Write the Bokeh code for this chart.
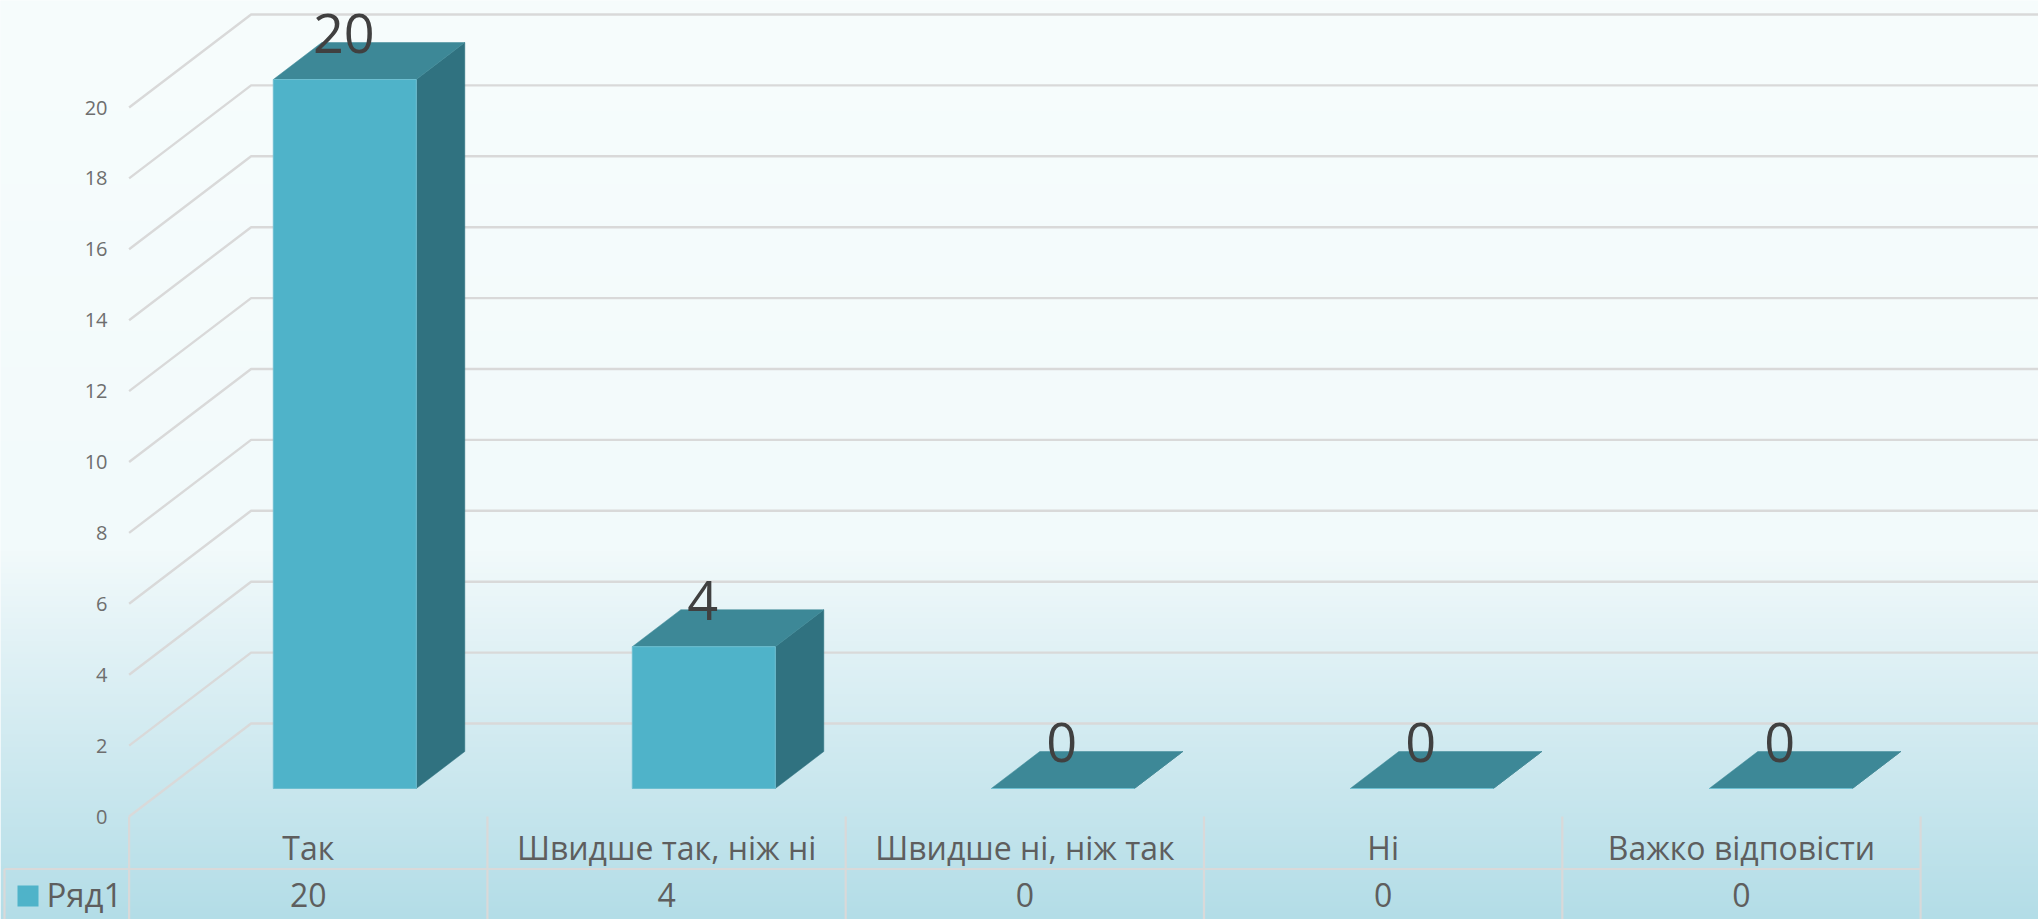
import numpy as np
from bokeh.plotting import figure
from bokeh.models import LinearAxis, FixedTicker, Range1d
from bokeh.core.properties import value
from bokeh.embed import file_html
from bokeh.resources import INLINE

categories = ["Так", "Швидше так, ніж ні", "Швидше ні, ніж так", "Ні", "Важко відповісти"]
values = [20, 4, 0, 0, 0]
y_ticks = [0, 2, 4, 6, 8, 10, 12, 14, 16, 18, 20]
series_name = "Ряд1"

FONT = "Open Sans"
W, H = 2038, 919
PX_X, PX_Y = 358.3, 35.45          # pixels per category / per value unit
X0_PX, Y0_PX = 128.6, 816.0        # page position of category 0 / value 0
def dx(px): return px / PX_X
def dy(px): return px / PX_Y
def X(px): return (px - X0_PX) / PX_X
def Y(px): return (Y0_PX - px) / PX_Y

x_range = Range1d(X(0), X(W))
y_range = Range1d(Y(H), Y(0))
p = figure(width=W, height=H, x_range=x_range, y_range=y_range, output_backend="svg",
           toolbar_location=None, x_axis_type=None, y_axis_type=None, min_border=0)
p.outline_line_color = None
p.grid.visible = False
p.background_fill_color = "#f6fcfd"
p.border_fill_color = None

# background gradient
stops_y = np.array([0, 550, 640, 919.0])
stops_c = np.array([[247, 253, 253], [242, 250, 251], [226, 242, 246], [179, 221, 231]], dtype=float)
rows = np.arange(H)[::-1]
rgba = np.zeros((H, 1), dtype=np.uint32)
view = rgba.view(np.uint8).reshape(H, 1, 4)
for i in range(3):
    view[:, 0, i] = np.interp(rows, stops_y, stops_c[:, i]).astype(np.uint8)
view[:, 0, 3] = 255
p.image_rgba(image=[rgba], x=[X(0)], y=[Y(H)], dw=[W / PX_X], dh=[H / PX_Y])

# walls
GRID = "#d9d9d9"
BX, BY = dx(122), dy(93)
xe = X(W)
for v in y_ticks:
    p.line([0, BX, xe], [v, v + BY, v + BY], line_color=GRID, line_width=2.4)

# table lines
n = len(categories)
yb = Y(H)
for i in range(n + 1):
    p.line([i, i], [Y(816), yb], line_color=GRID, line_width=2.2)
p.line([X(4), n], [Y(868.5), Y(868.5)], line_color=GRID, line_width=2.2)
p.line([X(4), X(4)], [Y(868.5), yb], line_color=GRID, line_width=2.2)

# 3D bars
FRONT, TOP, SIDE = "#4fb3c9", "#3d8897", "#307280"
bar_l = dx(272.8 - X0_PX)
bar_w = dx(143)
bar_step = dx(359)
base = Y(788)
ox, oy = dx(48.5), dy(37)
for i, v in enumerate(values):
    l = i * bar_step + bar_l
    r = l + bar_w
    t = base + v
    p.patch([r, r + ox, r + ox, r], [base, base + oy, t + oy, t], fill_color=SIDE,
            line_color=SIDE, line_width=0.5)
    p.patch([l, r, r + ox, l + ox], [t, t, t + oy, t + oy], fill_color=TOP,
            line_color=TOP, line_width=0.5)
    p.patch([l, r, r, l], [base, base, t, t], fill_color=FRONT,
            line_color="#6dbfd1", line_width=1)

# data labels
lx = [i * bar_step + bar_l + bar_w / 2 - dx(1) for i in range(n)]
ly = [base + v + oy + dy(9.5) for v in values]
p.text(x=lx, y=ly, text=[str(v) for v in values], text_font=value(FONT), text_font_size="54px",
       text_color="#404040", text_align="center", text_baseline="middle")

# value axis
ya = LinearAxis(fixed_location=X(117), ticker=FixedTicker(ticks=y_ticks))
ya.axis_line_color = None
ya.major_tick_line_color = None
ya.minor_tick_line_color = None
ya.major_label_standoff = 4
ya.major_label_text_font = FONT
ya.major_label_text_font_size = "20px"
ya.major_label_text_color = "#6e6e6e"
p.add_layout(ya, "left")

# category axis
xa = LinearAxis(fixed_location=Y(819), ticker=FixedTicker(ticks=[i + 0.5 for i in range(n)]),
                major_label_overrides={i + 0.5: c for i, c in enumerate(categories)})
xa.axis_line_color = None
xa.major_tick_line_color = None
xa.minor_tick_line_color = None
xa.major_label_standoff = 0
xa.major_label_text_font = FONT
xa.major_label_text_font_size = "32px"
xa.major_label_text_color = "#5e5e5e"
p.add_layout(xa, "below")

# data table row
p.text(x=[i + 0.5 for i in range(n)], y=[Y(894)] * n, text=[str(v) for v in values],
       text_font=value(FONT), text_font_size="32px", text_color="#5e5e5e",
       text_align="center", text_baseline="middle")
p.quad(left=[X(17)], right=[X(38)], top=[Y(885)], bottom=[Y(906)], fill_color=FRONT, line_color=None)
p.text(x=[X(46)], y=[Y(894)], text=[series_name], text_font=value(FONT), text_font_size="33px",
       text_color="#5e5e5e", text_align="left", text_baseline="middle")

open("out.html", "w").write(file_html(p, INLINE))
